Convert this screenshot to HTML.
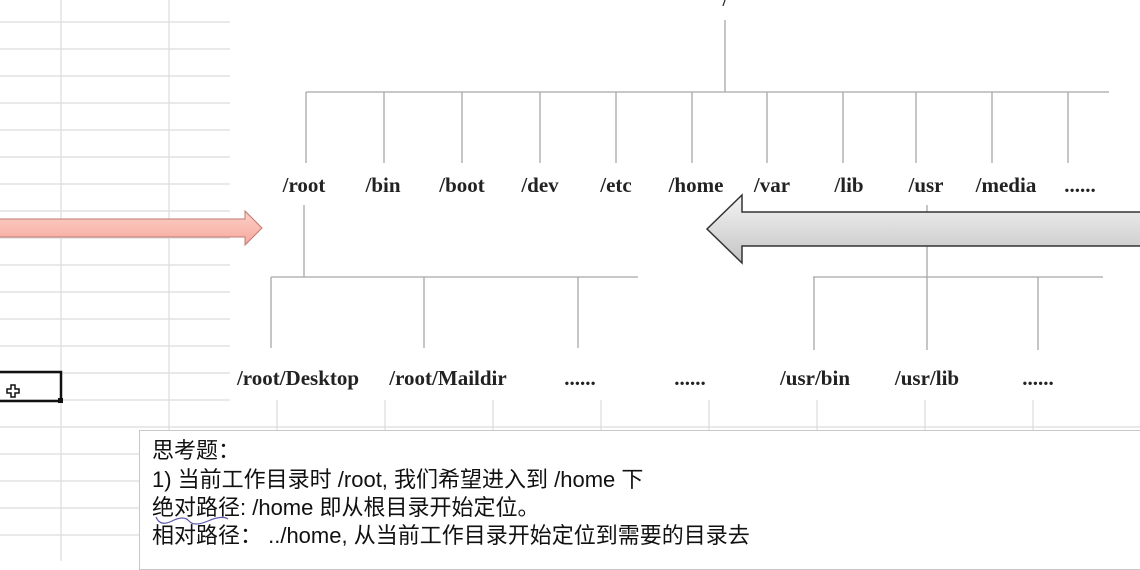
<!DOCTYPE html>
<html><head><meta charset="utf-8"><style>
html,body{margin:0;padding:0;}
body{width:1140px;height:561px;overflow:hidden;background:#fff;position:relative;font-family:"Liberation Sans","Noto Sans CJK SC",sans-serif;}
svg{position:absolute;left:0;top:0;}
.note{position:absolute;left:139px;top:430px;width:1010px;height:140px;background:#fff;border:1px solid #c8c8c8;box-sizing:border-box;}
.note div{position:absolute;left:12px;font-size:22px;color:#111;white-space:nowrap;line-height:24px;}
</style></head><body>
<svg width="1140" height="561" viewBox="0 0 1140 561">
<g stroke="#dcdcdc" stroke-width="1.2">
<line x1="61" y1="0" x2="61" y2="561"/><line x1="169" y1="0" x2="169" y2="561"/>
<line x1="0" y1="22" x2="230" y2="22"/><line x1="0" y1="49" x2="230" y2="49"/><line x1="0" y1="76" x2="230" y2="76"/><line x1="0" y1="103" x2="230" y2="103"/><line x1="0" y1="130" x2="230" y2="130"/><line x1="0" y1="157" x2="230" y2="157"/><line x1="0" y1="184" x2="230" y2="184"/><line x1="0" y1="211" x2="230" y2="211"/><line x1="0" y1="238" x2="230" y2="238"/><line x1="0" y1="265" x2="230" y2="265"/><line x1="0" y1="292" x2="230" y2="292"/><line x1="0" y1="319" x2="230" y2="319"/><line x1="0" y1="346" x2="230" y2="346"/><line x1="0" y1="373" x2="230" y2="373"/><line x1="0" y1="400" x2="230" y2="400"/><line x1="0" y1="427" x2="1140" y2="427"/><line x1="0" y1="454" x2="140" y2="454"/><line x1="0" y1="481" x2="140" y2="481"/><line x1="0" y1="508" x2="140" y2="508"/><line x1="0" y1="535" x2="140" y2="535"/>
<line x1="277" y1="400" x2="277" y2="430"/><line x1="385" y1="400" x2="385" y2="430"/><line x1="493" y1="400" x2="493" y2="430"/><line x1="601" y1="400" x2="601" y2="430"/><line x1="709" y1="400" x2="709" y2="430"/><line x1="817" y1="400" x2="817" y2="430"/><line x1="925" y1="400" x2="925" y2="430"/><line x1="1033" y1="400" x2="1033" y2="430"/>
</g>
<g stroke="#a8a8a8" stroke-width="1.3" fill="none">
<line x1="725" y1="20" x2="725" y2="92"/>
<line x1="306" y1="92" x2="1109" y2="92"/>
<path d="M306 92V163M384 92V163M462 92V163M540 92V163M616 92V163M692 92V163M767 92V163M843 92V163M916 92V163M992 92V163M1068 92V163"/>
<line x1="304" y1="205" x2="304" y2="277"/>
<line x1="271" y1="277" x2="638" y2="277"/>
<path d="M271 277V348M424 277V348M578 277V348"/>
<line x1="927" y1="205" x2="927" y2="277"/>
<line x1="813" y1="277" x2="1103" y2="277"/>
<path d="M814 277V350M927 277V350M1038 277V350"/>
</g>
<text x="725" y="6" font-family="Liberation Serif" font-size="18" font-weight="bold" text-anchor="middle" fill="#222">/</text>
<g font-family="Liberation Serif,serif" font-size="21" font-weight="bold" fill="#222" text-anchor="middle">
<text x="304" y="192">/root</text><text x="383" y="192">/bin</text><text x="462" y="192">/boot</text><text x="540" y="192">/dev</text><text x="616" y="192">/etc</text><text x="696" y="192">/home</text><text x="772" y="192">/var</text><text x="849" y="192">/lib</text><text x="926" y="192">/usr</text><text x="1006" y="192">/media</text><text x="1080" y="192">......</text>
<text x="298" y="385">/root/Desktop</text><text x="448" y="385">/root/Maildir</text><text x="580" y="385">......</text><text x="690" y="385">......</text><text x="815" y="385">/usr/bin</text><text x="927" y="385">/usr/lib</text><text x="1038" y="385">......</text>
</g>
<defs>
<linearGradient id="pk" x1="0" y1="0" x2="0" y2="1"><stop offset="0" stop-color="#fcd0c8"/><stop offset="1" stop-color="#f6a89c"/></linearGradient>
<linearGradient id="gr" x1="0" y1="0" x2="0" y2="1"><stop offset="0" stop-color="#f4f4f4"/><stop offset="1" stop-color="#c4c4c4"/></linearGradient>
</defs>
<path d="M-2 219H245V211L262 228L245 245V237H-2Z" fill="url(#pk)" stroke="#c07a70" stroke-width="1"/>
<path d="M1142 212H742V195L707 229L742 263V246H1142Z" fill="url(#gr)" stroke="#333" stroke-width="1.5"/>
<rect x="-2" y="372" width="63" height="29" fill="none" stroke="#111" stroke-width="2.5"/>
<rect x="58" y="398" width="5" height="5" fill="#111"/>
<path d="M7 389h4v-4h4v4h4v4h-4v4h-4v-4h-4z" fill="#fff" stroke="#111" stroke-width="1.5"/>
</svg>
<div class="note">
<div style="top:8px">思考题：</div>
<div style="top:37px">1) 当前工作目录时 /root, 我们希望进入到 /home 下</div>
<div style="top:65px">绝对路径: /home 即从根目录开始定位。</div>
<div style="top:93px">相对路径：  ../home, 从当前工作目录开始定位到需要的目录去</div>
<svg width="120" height="30" style="left:0;top:78px"><path d="M16 8q4 10 16 4t17 0t19 0t20 -2" stroke="#5a5ab0" stroke-width="1.2" fill="none"/></svg>
</div>
</body></html>
